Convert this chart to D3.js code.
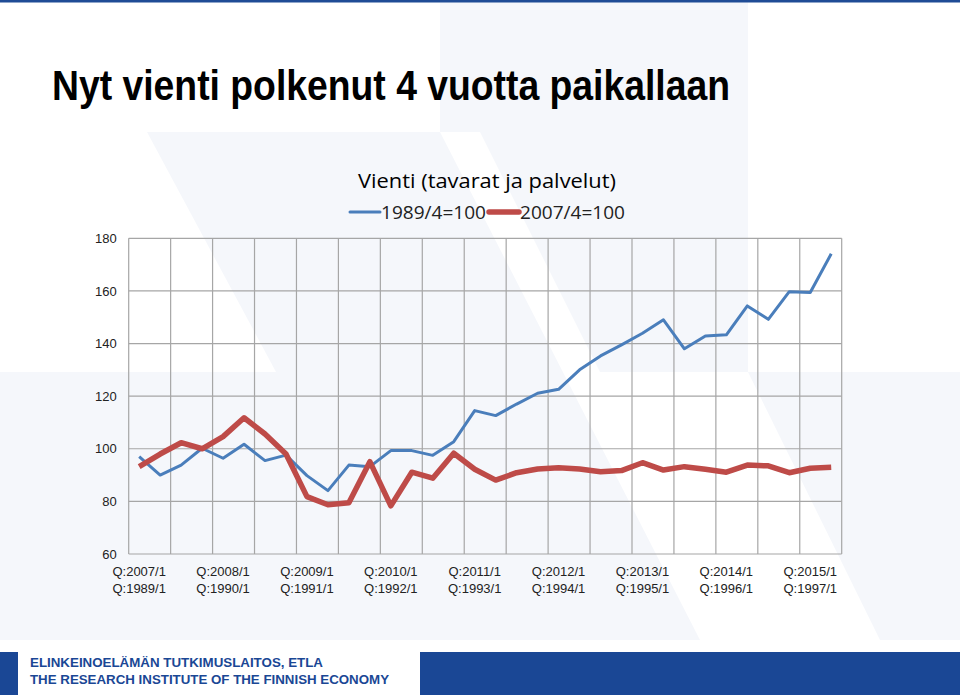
<!DOCTYPE html>
<html>
<head>
<meta charset="utf-8">
<style>
    body { margin:0; background:#ffffff; }
    svg { display:block; }
</style>
</head>
<body>
<svg id="slide" width="960" height="695"></svg>
<script src="https://cdn.jsdelivr.net/npm/d3@7/dist/d3.min.js"></script>
<script>
// quarters shown on the x axis (2007 base)
var quarters = ["2007/1","2007/2","2007/3","2007/4","2008/1","2008/2","2008/3","2008/4",
    "2009/1","2009/2","2009/3","2009/4","2010/1","2010/2","2010/3","2010/4",
    "2011/1","2011/2","2011/3","2011/4","2012/1","2012/2","2012/3","2012/4",
    "2013/1","2013/2","2013/3","2013/4","2014/1","2014/2","2014/3","2014/4",
    "2015/1","2015/2"];

// 1989/4=100 (blue)
var base1989 = [97.0, 90.0, 93.8, 100.2, 96.4, 101.7, 95.5, 97.6, 89.8, 84.1,
    93.8, 93.2, 99.3, 99.3, 97.5, 102.7, 114.5, 112.6, 117.0, 121.1,
    122.6, 130.0, 135.3, 139.5, 143.9, 149.0, 138.0, 142.9, 143.3, 154.3,
    149.2, 159.7, 159.4, 174.1];

// 2007/4=100 (red)
var base2007 = [93.2, 98.0, 102.3, 100.0, 104.6, 111.8, 105.6, 98.0, 81.8, 78.7,
    79.5, 95.1, 78.3, 91.1, 88.8, 98.3, 92.2, 88.1, 90.9, 92.3,
    92.8, 92.3, 91.3, 91.7, 94.7, 91.9, 93.2, 92.2, 91.1, 93.8,
    93.5, 90.9, 92.6, 93.0];

var labelsTop = ["Q:2007/1","Q:2008/1","Q:2009/1","Q:2010/1","Q:2011/1","Q:2012/1","Q:2013/1","Q:2014/1","Q:2015/1"];
var labelsBottom = ["Q:1989/1","Q:1990/1","Q:1991/1","Q:1992/1","Q:1993/1","Q:1994/1","Q:1995/1","Q:1996/1","Q:1997/1"];
var yTicks = [60, 80, 100, 120, 140, 160, 180];

var svg = d3.select("#slide");

// faint background stripes of the slide template
var bgShapes = [
    [[440,0],[748,0],[748,372],[600,372],[480,132],[440,132]],
    [[147,132],[440,132],[700,640],[420,640]],
    [[0,372],[330,372],[460,640],[0,640]],
    [[748,372],[960,372],[960,640],[880,640]]
];
svg.selectAll("polygon.bg")
    .data(bgShapes)
    .enter()
    .append("polygon")
    .attr("class", "bg")
    .attr("points", function(d){ return d.map(function(p){ return p.join(","); }).join(" "); })
    .style("fill", "#f5f7fb");

// top rule
svg.append("rect").attr("x",0).attr("y",0).attr("width",960).attr("height",2.5).style("fill","#1f4c96");

// slide title
svg.append("text")
    .attr("x", 52)
    .attr("y", 100)
    .attr("textLength", 678)
    .attr("lengthAdjust", "spacingAndGlyphs")
    .style("font-family", "'Liberation Sans', Arial, sans-serif")
    .style("font-weight", "bold")
    .style("font-size", "43px")
    .style("fill", "#000")
    .text("Nyt vienti polkenut 4 vuotta paikallaan");

// chart area
var plotL = 128.7, plotR = 841.7, plotT = 238.3, plotB = 554;

var x = d3.scaleBand().domain(quarters).range([plotL, plotR]).padding(0);
var y = d3.scaleLinear().domain([60, 180]).range([plotB, plotT]);

var grid = svg.append("g");
grid.selectAll("line.h")
    .data(yTicks)
    .enter()
    .append("line")
    .attr("x1", plotL).attr("x2", plotR)
    .attr("y1", function(d){ return y(d); })
    .attr("y2", function(d){ return y(d); })
    .style("stroke", "#a6a6a6")
    .style("stroke-width", 1.2);

var vq = quarters.filter(function(d, i){ return i % 2 === 0; });
grid.selectAll("line.v")
    .data(vq)
    .enter()
    .append("line")
    .attr("x1", function(d){ return x(d); })
    .attr("x2", function(d){ return x(d); })
    .attr("y1", plotT).attr("y2", plotB)
    .style("stroke", "#a6a6a6")
    .style("stroke-width", 1.2);
grid.append("line")
    .attr("x1", plotR).attr("x2", plotR).attr("y1", plotT).attr("y2", plotB)
    .style("stroke", "#a6a6a6").style("stroke-width", 1.2);

// y axis labels
var yAxis = d3.axisLeft(y).tickValues(yTicks).tickSize(0).tickPadding(12);
var ya = svg.append("g").attr("transform", "translate(" + plotL + ",0)").call(yAxis);
ya.select(".domain").remove();
ya.selectAll("text")
    .style("font-family", "'Liberation Sans Narrow', 'Liberation Sans', Arial, sans-serif")
    .style("font-size", "13px")
    .style("fill", "#222");

// x labels, two rows
var labelQ = quarters.filter(function(d, i){ return i % 4 === 0; });
var xl = svg.append("g");
xl.selectAll("text.top")
    .data(labelQ)
    .enter()
    .append("text")
    .attr("x", function(d){ return x(d) + x.bandwidth() / 2; })
    .attr("y", 576)
    .attr("text-anchor", "middle")
    .style("font-family", "'Liberation Sans Narrow', 'Liberation Sans', Arial, sans-serif")
    .style("font-size", "13px")
    .style("fill", "#222")
    .text(function(d, i){ return labelsTop[i]; });
xl.selectAll("text.bot")
    .data(labelQ)
    .enter()
    .append("text")
    .attr("x", function(d){ return x(d) + x.bandwidth() / 2; })
    .attr("y", 593)
    .attr("text-anchor", "middle")
    .style("font-family", "'Liberation Sans Narrow', 'Liberation Sans', Arial, sans-serif")
    .style("font-size", "13px")
    .style("fill", "#222")
    .text(function(d, i){ return labelsBottom[i]; });

// series lines
var line = d3.line()
    .x(function(d, i){ return x(quarters[i]) + x.bandwidth() / 2; })
    .y(function(d){ return y(d); });

svg.append("path")
    .datum(base1989)
    .attr("d", line)
    .style("fill", "none")
    .style("stroke", "#4a7ebb")
    .style("stroke-width", 3)
    .style("stroke-linejoin", "round");

svg.append("path")
    .datum(base2007)
    .attr("d", line)
    .style("fill", "none")
    .style("stroke", "#be4b48")
    .style("stroke-width", 5.5)
    .style("stroke-linejoin", "round");

// chart title
svg.append("text")
    .attr("x", 487)
    .attr("y", 188)
    .attr("text-anchor", "middle")
    .attr("textLength", 258)
    .attr("lengthAdjust", "spacingAndGlyphs")
    .style("font-family", "'Open Sans', 'Noto Sans', sans-serif")
    .style("font-size", "20px")
    .style("fill", "#000")
    .text("Vienti (tavarat ja palvelut)");

// legend
var legend = [
    {name: "1989/4=100", color: "#4a7ebb", w: 3, x0: 350},
    {name: "2007/4=100", color: "#be4b48", w: 5.5, x0: 489}
];
var lg = svg.append("g");
lg.selectAll("line")
    .data(legend)
    .enter()
    .append("line")
    .attr("x1", function(d){ return d.x0; })
    .attr("x2", function(d){ return d.x0 + 30; })
    .attr("y1", 212).attr("y2", 212)
    .style("stroke", function(d){ return d.color; })
    .style("stroke-width", function(d){ return d.w; })
    .style("stroke-linecap", "round");
lg.selectAll("text")
    .data(legend)
    .enter()
    .append("text")
    .attr("x", function(d){ return d.x0 + 31; })
    .attr("y", 219)
    .attr("textLength", 105)
    .attr("lengthAdjust", "spacingAndGlyphs")
    .style("font-family", "'Open Sans', 'Noto Sans', sans-serif")
    .style("font-size", "18px")
    .style("fill", "#222")
    .text(function(d){ return d.name; });

// footer
svg.append("rect").attr("x",0).attr("y",652).attr("width",18).attr("height",43).style("fill","#1a4795");
svg.append("rect").attr("x",420).attr("y",652).attr("width",540).attr("height",43).style("fill","#1a4795");
var ft = svg.append("g")
    .style("font-family", "'Liberation Sans', Arial, sans-serif")
    .style("font-weight", "bold")
    .style("font-size", "13px")
    .style("fill", "#1a4795");
ft.append("text").attr("x", 30).attr("y", 667)
    .attr("textLength", 293).attr("lengthAdjust", "spacingAndGlyphs")
    .text("ELINKEINOELÄMÄN TUTKIMUSLAITOS, ETLA");
ft.append("text").attr("x", 30).attr("y", 684)
    .attr("textLength", 359).attr("lengthAdjust", "spacingAndGlyphs")
    .text("THE RESEARCH INSTITUTE OF THE FINNISH ECONOMY");
</script>
</body>
</html>
